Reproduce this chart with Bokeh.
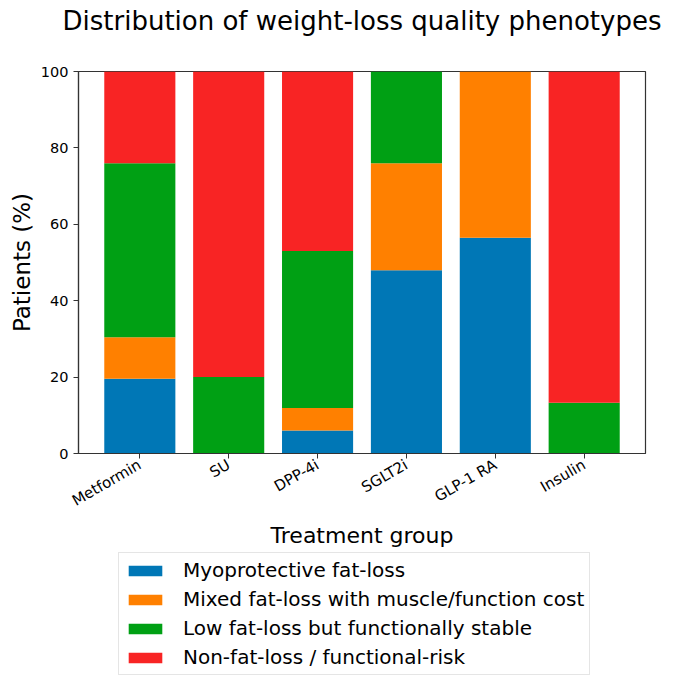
from bokeh.plotting import figure
from bokeh.layouts import column
from bokeh.models import FactorRange, Range1d, Legend, LegendItem, SingleIntervalTicker, Title
from bokeh.embed import file_html
from bokeh.resources import INLINE
import math

groups = ["Metformin", "SU", "DPP-4i", "SGLT2i", "GLP-1 RA", "Insulin"]
myoprotective = [19.6, 0.0, 6.0, 48.0, 56.5, 0.0]
mixed = [10.8, 0.0, 5.9, 28.0, 43.5, 0.0]
low_stable = [45.6, 20.0, 41.1, 24.0, 0.0, 13.3]
non_fat = [24.0, 80.0, 47.0, 0.0, 0.0, 86.7]

series_keys = ["myo", "mixed", "low", "non"]
series_labels = ["Myoprotective fat-loss",
                 "Mixed fat-loss with muscle/function cost",
                 "Low fat-loss but functionally stable",
                 "Non-fat-loss / functional-risk"]
colors = ["#0077b6", "#ff8000", "#00a014", "#f82424"]
title_text = "Distribution of weight-loss quality phenotypes"

FONT = "DejaVu Sans"

data = dict(group=groups, myo=myoprotective, mixed=mixed, low=low_stable, non=non_fat)

p = figure(width=663, height=551, output_backend="svg", toolbar_location=None,
           x_range=FactorRange(*groups, range_padding=0.19, range_padding_units="absolute"),
           y_range=Range1d(0, 100), title=None)

renderers = p.vbar_stack(series_keys, x="group", width=0.8, color=colors, line_color=None,
                         source=data)

spacer = Title(text=" ", text_font=FONT, text_font_size="10px", standoff=16)
main_title = Title(text=title_text, align="center", vertical_align="top",
                   text_font=FONT, text_font_size="26px", text_font_style="normal",
                   text_color="black", standoff=10)
p.add_layout(spacer, "above")
p.add_layout(main_title, "above")

p.xgrid.visible = False
p.ygrid.visible = False
p.outline_line_color = "#333333"
p.outline_line_width = 1.2
p.min_border_right = 18
p.min_border_top = 71
p.min_border_left = 78
p.min_border_bottom = 98

p.yaxis.ticker = SingleIntervalTicker(interval=20)
p.yaxis.minor_tick_line_color = None

for ax in (p.xaxis[0], p.yaxis[0]):
    ax.axis_line_color = "#333333"
    ax.axis_line_width = 1.2
    ax.major_tick_line_color = "#333333"
    ax.major_tick_in = 0
    ax.major_tick_out = 5
    ax.major_label_text_font = FONT
    ax.major_label_text_color = "black"
    ax.axis_label_text_font = FONT
    ax.axis_label_text_font_style = "normal"
    ax.axis_label_text_color = "black"
    ax.major_label_standoff = 5

p.yaxis.major_label_text_font_size = "14.5px"
p.xaxis.major_label_text_font_size = "15px"
p.xaxis.axis_label = "Treatment group"
p.yaxis.axis_label = "Patients (%)"
p.xaxis.axis_label_text_font_size = "22px"
p.yaxis.axis_label_text_font_size = "23px"
p.yaxis.axis_label_standoff = 3
p.xaxis.axis_label_standoff = 3
p.xaxis.major_label_orientation = math.pi / 6

# legend strip below the chart: the same stacked series, hidden, so that only
# their legend swatches show
lg = figure(width=663, height=125, output_backend="svg", toolbar_location=None,
            x_range=FactorRange(*groups), y_range=Range1d(200, 300), min_border=0)
lg.axis.visible = False
lg.grid.visible = False
lg.outline_line_color = None
proxies = lg.vbar_stack(series_keys, x="group", width=0.8, color=colors, line_color=None,
                        source=data)
for r in proxies:
    r.visible = False

items = [LegendItem(label=lab, renderers=[r]) for lab, r in zip(series_labels, proxies)]
legend = Legend(items=items, location=(40, 1), orientation="vertical")
legend.label_text_font = FONT
legend.label_text_font_size = "20px"
legend.label_text_color = "black"
legend.glyph_width = 42
legend.glyph_height = 13
legend.label_standoff = 17
legend.label_height = 20
legend.padding = 5
legend.spacing = 5
legend.margin = 0
legend.inactive_fill_alpha = 0.0
legend.border_line_color = "#cccccc"
legend.border_line_width = 1.5
lg.add_layout(legend, "center")

layout = column(p, lg)
open("out.html", "w").write(file_html(layout, INLINE))
